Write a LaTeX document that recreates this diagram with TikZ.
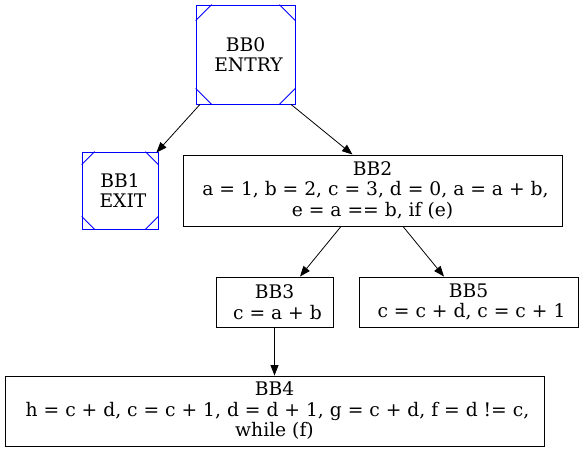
\documentclass[tikz,border=0pt]{standalone}
\usepackage{fontspec}
\setmainfont{DejaVu Serif}
\usetikzlibrary{arrows.meta,calc}
\begin{document}
\begin{tikzpicture}[x=1pt,y=-1pt,
  lbl/.style={font=\fontsize{18.7}{20.5}\selectfont, align=center, inner sep=0pt, anchor=center},
  box/.style={lbl, draw=black, line width=0.9pt, rectangle},
  msq/.style={lbl, draw=blue, line width=0.8pt, rectangle},
  edge/.style={line width=0.8pt, -{Triangle[length=10.5pt,width=8pt]}}]
\useasboundingbox (0,0) rectangle (584,452);
\newcommand{\msqcorners}[2]{%
  \draw[blue, line width=0.8pt] ([yshift=-#2]#1.north west) -- ([xshift=#2]#1.north west);
  \draw[blue, line width=0.8pt] ([yshift=-#2]#1.north east) -- ([xshift=-#2]#1.north east);
  \draw[blue, line width=0.8pt] ([yshift=#2]#1.south west) -- ([xshift=#2]#1.south west);
  \draw[blue, line width=0.8pt] ([yshift=#2]#1.south east) -- ([xshift=-#2]#1.south east);}
\node[msq, minimum width=99pt, minimum height=99pt] (bb0) at (245.5,54.5) {BB0\\ \ ENTRY};
\node[msq, minimum width=76pt, minimum height=77pt] (bb1) at (120,190.5) {BB1\\ \ EXIT};
\msqcorners{bb0}{16pt}
\msqcorners{bb1}{13pt}
\node[box, minimum width=379pt, minimum height=71pt] (bb2) at (372.5,190.5) {BB2\\ \ a = 1, b = 2, c = 3, d = 0, a = a + b,\\ e = a == b, if (e)};
\node[box, minimum width=117pt, minimum height=50pt] (bb3) at (274.5,302) {BB3\\ \ c = a + b};
\node[box, minimum width=219pt, minimum height=50pt] (bb5) at (468.5,302) {BB5\\ \ c = c + d, c = c + 1};
\node[box, minimum width=539pt, minimum height=70pt] (bb4) at (274.5,411) {BB4\\ \ h = c + d, c = c + 1, d = d + 1, g = c + d, f = d != c,\\ while (f)};
\draw[edge] ([xshift=-45.5pt]bb0.south) -- ([xshift=-2pt,yshift=-1pt]bb1.north east);
\draw[edge] ([xshift=45.5pt]bb0.south) -- ([xshift=-20pt]bb2.north);
\draw[edge] ([xshift=-31.5pt]bb2.south) -- ([xshift=25.5pt]bb3.north);
\draw[edge] ([xshift=30.5pt]bb2.south) -- ([xshift=-24.5pt]bb5.north);
\draw[edge] (bb3.south) -- (bb4.north);
\end{tikzpicture}
\end{document}
